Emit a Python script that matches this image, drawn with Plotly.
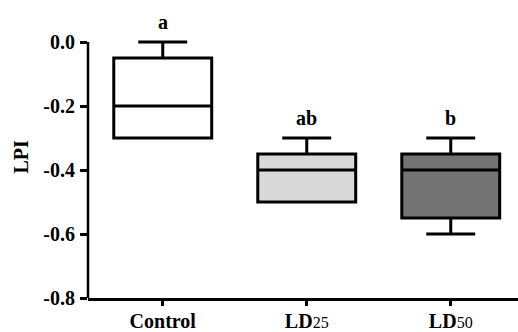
import plotly.graph_objects as go

categories = ["Control", "LD25", "LD50"]
tick_labels = ["Control", "LD<span style='font-weight:normal;font-size:16px'>25</span>",
               "LD<span style='font-weight:normal;font-size:16px'>50</span>"]
lower = [-0.30, -0.50, -0.60]
q1 = [-0.30, -0.50, -0.55]
median = [-0.20, -0.40, -0.40]
q3 = [-0.05, -0.35, -0.35]
upper = [0.00, -0.30, -0.30]
letters = ["a", "ab", "b"]
fills = ["#ffffff", "#d9d9d9", "#737373"]
y_ticks = [0.0, -0.2, -0.4, -0.6, -0.8]
y_tick_text = ["0.0", "-0.2", "-0.4", "-0.6", "-0.8"]

font = "Liberation Serif"
fig = go.Figure()
for i, c in enumerate(categories):
    fig.add_trace(go.Box(
        x=[i], q1=[q1[i]], median=[median[i]], q3=[q3[i]],
        lowerfence=[lower[i]], upperfence=[upper[i]],
        fillcolor=fills[i], line=dict(color="black", width=3),
        width=0.68, whiskerwidth=0.5, boxpoints=False, showlegend=False,
        hoverinfo="skip",
    ))
    fig.add_annotation(x=i, y=upper[i], text="<b>%s</b>" % letters[i], showarrow=False,
                       yanchor="bottom", yshift=7, font=dict(family=font, size=20, color="black"))

fig.add_shape(type="line", xref="paper", yref="y", x0=0, x1=0, y0=-0.8, y1=0.0,
              line=dict(color="black", width=2.5))
fig.add_annotation(xref="paper", yref="paper", x=-0.158, y=0.52, text="<b>LPI</b>",
                   textangle=-90, showarrow=False, xanchor="center", yanchor="middle",
                   font=dict(family=font, size=20, color="black"))

fig.update_layout(
    width=518, height=332, plot_bgcolor="white", paper_bgcolor="white",
    margin=dict(l=88, r=0, t=26, b=34),
    font=dict(family=font, size=20, color="black"),
    boxmode="overlay",
)
fig.update_xaxes(range=[-0.519, 2.467], tickvals=[0, 1, 2],
                 ticktext=["<b>%s</b>" % t for t in tick_labels], automargin=False,
                 showline=True, linecolor="black", linewidth=2.5, ticks="outside",
                 ticklen=5, tickwidth=2.5, tickcolor="black", showgrid=False, zeroline=False,
                 ticklabelstandoff=-2,
                 tickfont=dict(family=font, size=20, color="black"))
fig.update_yaxes(range=[-0.8, 0.05], tickvals=y_ticks, ticktext=["<b>%s</b>" % t for t in y_tick_text],
                 showline=False, ticks="outside", ticklen=7, tickwidth=2.5, tickcolor="black",
                 showgrid=False, zeroline=False, automargin=False, ticklabelstandoff=1,
                 tickfont=dict(family=font, size=20, color="black"))
fig.write_html("out.html", config={"displayModeBar": False},
               post_script="document.body.style.margin='0';document.body.style.overflow='hidden';")
